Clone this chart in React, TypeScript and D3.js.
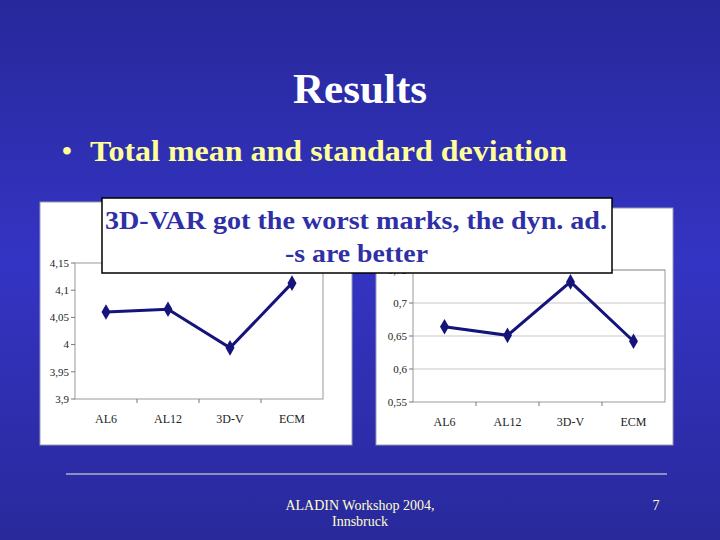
import React from 'react';
import * as d3 from 'd3';

const categories = ['AL6', 'AL12', '3D-V', 'ECM'];
const meanValues = [4.06, 4.065, 3.994, 4.113];
const meanTicks = [3.9, 3.95, 4, 4.05, 4.1, 4.15];
const stdValues = [0.664, 0.651, 0.732, 0.642];
const stdTicks = [0.55, 0.6, 0.65, 0.7, 0.75];

const serif = '"Liberation Serif", "Times New Roman", serif';
const fmt = (v: number) => String(+v.toFixed(2)).replace('.', ',');

type PanelProps = {
  box: { x: number; y: number; w: number; h: number };
  plot: { x0: number; x1: number; y0: number; y1: number };
  values: number[];
  ticks: number[];
  grid: boolean;
};

const Panel = ({ box, plot, values, ticks, grid }: PanelProps) => {
  const x = d3.scaleBand().domain(categories).range([plot.x0, plot.x1]);
  const y = d3.scaleLinear()
    .domain([ticks[0], ticks[ticks.length - 1]])
    .range([plot.y1, plot.y0]);
  const line = d3.line<number>()
    .x((_, i) => x(categories[i])! + x.bandwidth() / 2)
    .y(d => y(d));
  const diamond = d3.symbol().type(d3.symbolDiamond).size(70)();

  return (
    <g>
      <rect x={box.x} y={box.y} width={box.w} height={box.h} fill="#fff" stroke="#9a9ab0" strokeWidth={1} />
      {grid && ticks.slice(1).map(t => (
        <line key={t} x1={plot.x0} x2={plot.x1} y1={y(t)} y2={y(t)} stroke="#c8c8c8" strokeWidth={1.2} />
      ))}
      <rect x={plot.x0} y={plot.y0} width={plot.x1 - plot.x0} height={plot.y1 - plot.y0}
        fill="none" stroke="#9a9a9a" strokeWidth={1} />
      {ticks.map(t => (
        <g key={t}>
          <line x1={plot.x0 - 4} x2={plot.x0} y1={y(t)} y2={y(t)} stroke="#777" />
          <text x={plot.x0 - 6} y={y(t)} dy="0.35em" textAnchor="end" fontFamily={serif} fontSize={11} fill="#222">
            {fmt(t)}
          </text>
        </g>
      ))}
      {categories.slice(1).map(c => (
        <line key={c} x1={x(c)} x2={x(c)} y1={plot.y1} y2={plot.y1 + 4} stroke="#777" />
      ))}
      {categories.map(c => (
        <text key={c} x={x(c)! + x.bandwidth() / 2} y={plot.y1 + 24} textAnchor="middle"
          fontFamily={serif} fontSize={12} fill="#222">
          {c}
        </text>
      ))}
      <path d={line(values) || ''} fill="none" stroke="#14147a" strokeWidth={3} />
      {values.map((v, i) => (
        <path key={i} d={diamond || ''} fill="#14147a"
          transform={`translate(${x(categories[i])! + x.bandwidth() / 2},${y(v)})`} />
      ))}
    </g>
  );
};

const App = () => (
  <svg width={720} height={540} style={{ position: 'absolute', left: 0, top: 0 }}>
    <defs>
      <linearGradient id="bg" x1="0" y1="0" x2="0" y2="1">
        <stop offset="0" stopColor="#27289a" />
        <stop offset="0.48" stopColor="#3434c4" />
        <stop offset="1" stopColor="#29299c" />
      </linearGradient>
    </defs>
    <rect width={720} height={540} fill="url(#bg)" />
    <text x={293} y={103} textLength={134} lengthAdjust="spacingAndGlyphs" fontFamily={serif}
      fontWeight="bold" fontSize={42} fill="#fff">
      Results
    </text>
    <text x={62} y={160} fontFamily={serif} fontWeight="bold" fontSize={28} fill="#ffff99">•</text>
    <text x={90} y={161} textLength={477} lengthAdjust="spacingAndGlyphs" fontFamily={serif}
      fontWeight="bold" fontSize={30} fill="#ffff99">
      Total mean and standard deviation
    </text>

    <Panel box={{ x: 40, y: 202, w: 312, h: 243 }} plot={{ x0: 75, x1: 323, y0: 263, y1: 399 }}
      values={meanValues} ticks={meanTicks} grid={false} />
    <Panel box={{ x: 376, y: 208, w: 297, h: 237 }} plot={{ x0: 413, x1: 665, y0: 270, y1: 402 }}
      values={stdValues} ticks={stdTicks} grid={true} />

    <rect x={102} y={198} width={510} height={75} fill="#fff" stroke="#000" strokeWidth={1.5} />
    <text x={105} y={229} textLength={502} lengthAdjust="spacingAndGlyphs" fontFamily={serif}
      fontWeight="bold" fontSize={26} fill="#2f2fa6">
      3D-VAR got the worst marks, the dyn. ad.
    </text>
    <text x={285} y={262} textLength={143} lengthAdjust="spacingAndGlyphs" fontFamily={serif}
      fontWeight="bold" fontSize={26} fill="#2f2fa6">
      -s are better
    </text>

    <line x1={66} x2={667} y1={474} y2={474} stroke="#f0f0d8" strokeWidth={1} />
    <text x={360} y={510} textAnchor="middle" fontFamily={serif} fontSize={14} fill="#ffffcc">
      ALADIN Workshop 2004,
    </text>
    <text x={360} y={526} textAnchor="middle" fontFamily={serif} fontSize={14} fill="#ffffcc">
      Innsbruck
    </text>
    <text x={656} y={510} textAnchor="middle" fontFamily={serif} fontSize={14} fill="#ffffcc">7</text>
  </svg>
);

export default App;
